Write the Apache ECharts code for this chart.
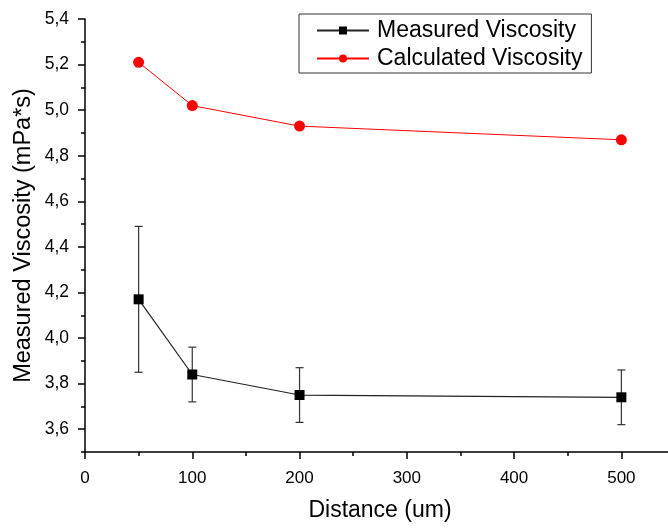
<!DOCTYPE html>
<html><head><meta charset="utf-8">
<script src="https://cdn.jsdelivr.net/npm/echarts@6/dist/echarts.min.js"></script>
<style>html,body{margin:0;padding:0;background:#fff}#c{width:668px;height:528px}</style>
</head><body><div id="c"></div>
<script>
const distances = [50, 100, 200, 500];
const measured = [4.17, 3.84, 3.75, 3.74];
const measuredErr = [0.32, 0.12, 0.12, 0.12];
const calculated = [5.21, 5.02, 4.93, 4.87];
const xTicks = [0, 100, 200, 300, 400, 500];
const yTicks = [3.6, 3.8, 4.0, 4.2, 4.4, 4.6, 4.8, 5.0, 5.2, 5.4];
const yMinorTicks = [3.5, 3.7, 3.9, 4.1, 4.3, 4.5, 4.7, 4.9, 5.1, 5.3];

const FONT = '"Liberation Sans", Arial, sans-serif';
const chart = echarts.init(document.getElementById('c'));
const errData = distances.map((d, i) => [d, measured[i] - measuredErr[i], measured[i] + measuredErr[i]]);
const axisLine = { onZero: false, lineStyle: { color: '#000', width: 1.5 } };
chart.setOption({
  animation: false,
  grid: { left: 85, top: 19, width: 590, bottom: 76, outerBoundsMode: 'none', containLabel: false },
  legend: {
    left: 299, top: 14,
    orient: 'vertical',
    padding: [5, 9, 3, 17],
    borderColor: '#333', borderWidth: 1,
    itemWidth: 52, itemHeight: 10, itemGap: 5,
    textStyle: { fontFamily: FONT, fontSize: 23, color: '#000', padding: [0, 0, 0, 3] },
    data: ['Measured Viscosity', 'Calculated Viscosity']
  },
  xAxis: {
    type: 'value', min: 0, max: 550, interval: 100,
    name: 'Distance (um)', nameLocation: 'middle', nameGap: 47, nameMoveOverlap: false,
    nameTextStyle: { fontFamily: FONT, fontSize: 23, color: '#000' },
    axisLine: axisLine,
    axisTick: { inside: false, length: 7, lineStyle: { color: '#000', width: 1.5 } },
    minorTick: { show: true, splitNumber: 2, length: 4, lineStyle: { color: '#000', width: 1.5 } },
    axisLabel: { fontFamily: FONT, fontSize: 17, color: '#000', margin: 18,
      formatter: v => xTicks.includes(v) ? String(v) : '' },
    splitLine: { show: false }
  },
  yAxis: [
    {
      type: 'value', min: 3.5, max: 5.4,
      name: 'Measured Viscosity (mPa*s)', nameLocation: 'middle', nameGap: 49, nameMoveOverlap: false,
      nameTextStyle: { fontFamily: FONT, fontSize: 23.5, color: '#000' },
      axisLine: axisLine,
      axisTick: { inside: false, length: 7, customValues: yTicks, lineStyle: { color: '#000', width: 1.5 } },
      axisLabel: { fontFamily: FONT, fontSize: 17.5, color: '#000', margin: 16, customValues: yTicks,
        formatter: v => v.toFixed(1).replace('.', ',') },
      splitLine: { show: false }
    },
    {
      type: 'value', min: 3.5, max: 5.4, position: 'left',
      axisLine: { show: false },
      axisTick: { inside: false, length: 4, customValues: yMinorTicks, lineStyle: { color: '#000', width: 1.5 } },
      axisLabel: { show: false },
      splitLine: { show: false }
    }
  ],
  series: [
    {
      name: 'Measured Viscosity', type: 'line',
      data: distances.map((d, i) => [d, measured[i]]),
      symbol: 'rect', symbolSize: 10,
      lineStyle: { color: '#222', width: 1.2 },
      itemStyle: { color: '#000' }, z: 3
    },
    {
      name: 'errors', type: 'custom',
      data: errData,
      renderItem: (params, api) => {
        const x = api.value(0);
        const lo = api.coord([x, api.value(1)]);
        const hi = api.coord([x, api.value(2)]);
        const w = 4;
        const st = { stroke: '#333', lineWidth: 1.2 };
        return { type: 'group', children: [
          { type: 'line', shape: { x1: lo[0], y1: lo[1], x2: hi[0], y2: hi[1] }, style: st },
          { type: 'line', shape: { x1: lo[0] - w, y1: lo[1], x2: lo[0] + w, y2: lo[1] }, style: st },
          { type: 'line', shape: { x1: hi[0] - w, y1: hi[1], x2: hi[0] + w, y2: hi[1] }, style: st }
        ]};
      }, z: 2
    },
    {
      name: 'Calculated Viscosity', type: 'line',
      data: distances.map((d, i) => [d, calculated[i]]),
      symbol: 'circle', symbolSize: 11,
      lineStyle: { color: '#ff0000', width: 1 },
      itemStyle: { color: '#ff0000' }, z: 3
    }
  ]
});
</script></body></html>
